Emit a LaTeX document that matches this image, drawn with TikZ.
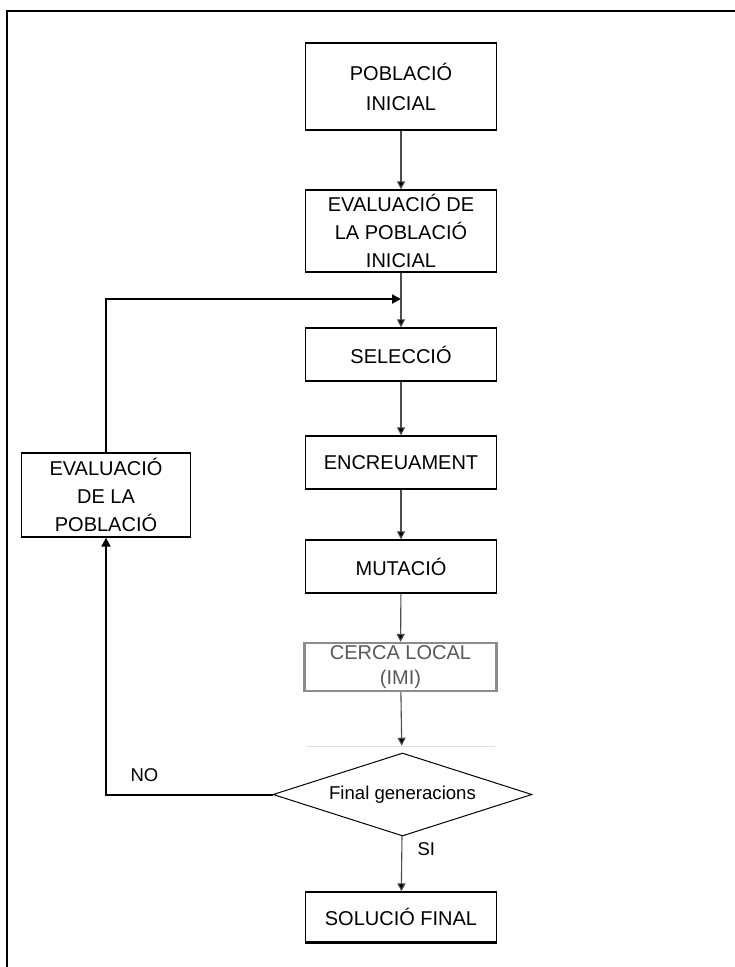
\documentclass[tikz,border=0pt]{standalone}
\usepackage{fontspec}
\setmainfont{Liberation Sans}
\usetikzlibrary{arrows.meta,shapes.geometric}
\begin{document}
\begin{tikzpicture}[x=1pt,y=-1pt,
  every node/.style={font=\fontsize{20}{29}\selectfont},
  stepbox/.style={draw=black,line width=1.3pt,rectangle,minimum width=191pt,inner sep=0pt,align=center},
  conn/.style={draw=black!70,line width=1.1pt,-{Triangle[length=8pt,width=8pt,fill=black]}},
  fb/.style={draw=black,line width=2pt,-{Triangle[length=9pt,width=9pt]}},
  lbl/.style={font=\fontsize{18.5}{20}\selectfont}
]
\useasboundingbox (0,0) rectangle (735,967);
\fill[white] (0,0) rectangle (735,967);
% frame
\draw[black,line width=1.2pt] (7,967) -- (7,11) -- (735,11);

\node[stepbox,minimum height=87pt,font=\fontsize{20}{30}\selectfont] (p1) at (401,86.5) {POBLACIÓ\\INICIAL};
\node[stepbox,minimum height=82pt,font=\fontsize{20}{28}\selectfont] (p2) at (401,231) {EVALUACIÓ DE\\LA POBLACIÓ\\INICIAL};
\node[stepbox,minimum height=53pt] (sel) at (401,354.5) {SELECCIÓ};
\node[stepbox,minimum height=53pt] (enc) at (401,462.5) {ENCREUAMENT};
\node[stepbox,minimum height=53pt] (mut) at (401,566.5) {MUTACIÓ};
\node[stepbox,draw=black!45,line width=2.2pt,minimum width=192pt,minimum height=48pt,text=black!65,font=\fontsize{20}{25}\selectfont] (cer) at (400.5,667) {CERCA LOCAL\\(IMI)};
\node[draw=black,line width=1pt,diamond,aspect=3.1,minimum width=259pt,minimum height=83pt,inner sep=0pt,font=\fontsize{18.6}{20}\selectfont] (dia) at (402.5,794.5) {Final generacions};
\node[stepbox,minimum height=50pt] (sol) at (401,917) {SOLUCIÓ FINAL};
\draw[black,line width=2.6pt] (sol.south west) -- (sol.south east);
\node[stepbox,minimum width=169pt,minimum height=84pt,font=\fontsize{20}{28}\selectfont] (lb) at (106,495) {EVALUACIÓ\\DE LA\\POBLACIÓ};

% faint line under cerca
\coordinate (gl1) at (307,746);
\coordinate (gl2) at (495,746);
\draw[black!12,line width=1pt] (gl1) -- (gl2);

\coordinate (j) at (401,299);

\draw[conn] (p1) -- (p2);
\draw[conn] (p2) -- (sel);
\draw[conn] (sel) -- (enc);
\draw[conn] (enc) -- (mut);
\draw[conn] (mut) -- (cer);
\draw[conn,shorten >=7pt] (cer) -- (dia);
\draw[conn] (dia) -- (sol);

\draw[fb] (dia.west) -| (lb.south);
\draw[fb] (lb.north) |- (j);

\node[lbl,anchor=base west] (no) at (127,781) {NO};
\node[lbl,anchor=base west] (si) at (414,855) {SI};
\end{tikzpicture}
\end{document}
